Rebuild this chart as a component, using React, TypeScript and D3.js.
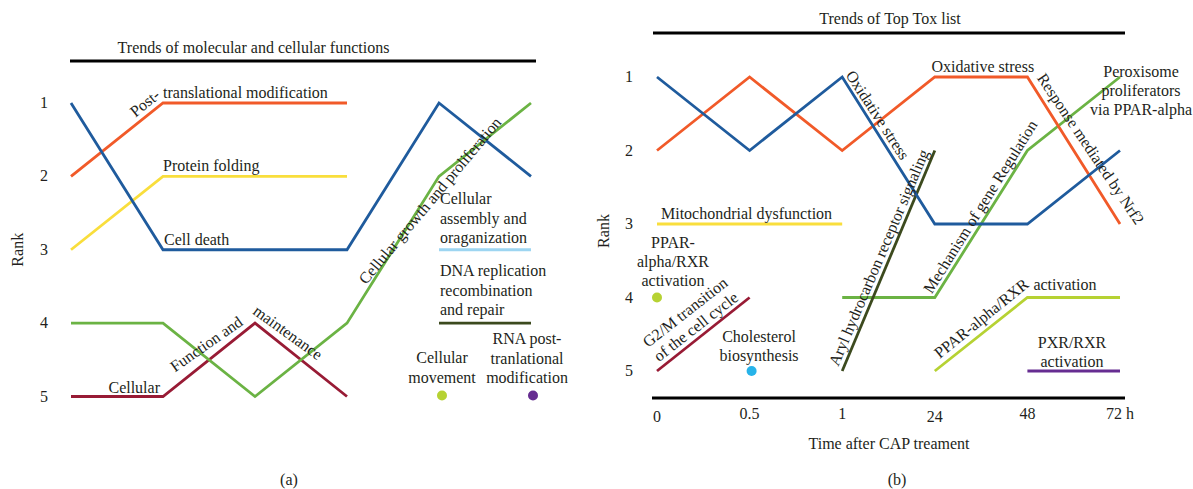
import React from 'react';
import * as d3 from 'd3';

// ---------- panel (a): molecular and cellular functions (rank per step) ----------
const stepsA = [0, 1, 2, 3, 4, 5];
const cellDeath = [1, 3, 3, 3, 1, 2];
const postTranslational = [2, 1, 1, 1, null, null];
const proteinFolding = [3, 2, 2, 2, null, null];
const cellGrowth = [4, 4, 5, 4, 2, 1];
const cellFunction = [5, 5, 4, 5, null, null];
const cellAssembly = [null, null, null, null, 3, 3];
const dnaReplication = [null, null, null, null, 4, 4];
const cellMovement = [null, null, null, null, 5, null];
const rnaPostTrans = [null, null, null, null, null, 5];

// ---------- panel (b): top tox list ----------
const timeLabels = ['0', '0.5', '1', '24', '48', '72 h'];
const oxidativeBlue = [1, 2, 1, 3, 3, 2];
const nrf2Orange = [2, 1, 2, 1, 1, 3];
const geneRegulation = [null, null, 4, 4, 2, 1];
const arylHydrocarbon = [null, null, 5, 2, null, null];
const mitochondrial = [3, 3, 3, null, null, null];
const g2mTransition = [5, 4, null, null, null, null];
const pparLine = [null, null, null, 5, 4, 4];
const pxrRxr = [null, null, null, null, 5, 5];
const pparDot = [4, null, null, null, null, null];
const cholesterol = [null, 5, null, null, null, null];

const rankTicks = [1, 2, 3, 4, 5];

type Vals = (number | null)[];

const C = {
  blue: '#1f5b9d',
  orange: '#f15a29',
  yellow: '#f9de3c',
  green: '#6bb344',
  darkRed: '#981b35',
  lightBlue: '#9dd5f1',
  darkGreen: '#3c4a1e',
  lime: '#b6d233',
  purple: '#662d91',
  cyan: '#27b3e9',
};

const seriesA: { vals: Vals; color: string }[] = [
  { vals: postTranslational, color: C.orange },
  { vals: proteinFolding, color: C.yellow },
  { vals: cellDeath, color: C.blue },
  { vals: cellFunction, color: C.darkRed },
  { vals: cellGrowth, color: C.green },
  { vals: cellAssembly, color: C.lightBlue },
  { vals: dnaReplication, color: C.darkGreen },
];
const dotsA = [
  { vals: cellMovement, color: C.lime },
  { vals: rnaPostTrans, color: C.purple },
];

const seriesB: { vals: Vals; color: string }[] = [
  { vals: mitochondrial, color: C.yellow },
  { vals: g2mTransition, color: C.darkRed },
  { vals: pparLine, color: C.lime },
  { vals: pxrRxr, color: C.purple },
  { vals: geneRegulation, color: C.green },
  { vals: arylHydrocarbon, color: C.darkGreen },
  { vals: nrf2Orange, color: C.orange },
  { vals: oxidativeBlue, color: C.blue },
];
const dotsB = [
  { vals: pparDot, color: C.lime },
  { vals: cholesterol, color: C.cyan },
];

const W = 1193;
const H = 489;
const FONT = '"Liberation Serif", "Times New Roman", serif';
const FS = 16;

const xA = d3.scaleLinear().domain([0, 5]).range([71, 531]);
const yA = d3.scaleLinear().domain([1, 5]).range([103, 396.5]);
const xB = d3.scalePoint<string>().domain(timeLabels).range([657, 1120]);
const yB = d3.scaleLinear().domain([1, 5]).range([77, 371]);
const xBi = (i: number) => xB(timeLabels[i]) as number;

function linePath(vals: Vals, x: (i: number) => number, y: (v: number) => number) {
  return d3
    .line<number | null>()
    .defined((v) => v != null)
    .x((_, i) => x(i))
    .y((v) => y(v as number))(vals) as string;
}

// multi-line label; first line sits at y, the rest go down by gap
function Lines({ text, x, y, anchor = 'start', gap = 19.5, rotate = 0 }:
  { text: string[]; x: number; y: number; anchor?: string; gap?: number; rotate?: number }) {
  return (
    <text transform={`translate(${x},${y}) rotate(${rotate})`} textAnchor={anchor}>
      {text.map((t, i) => (
        <tspan key={i} x={0} y={i * gap}>{t}</tspan>
      ))}
    </text>
  );
}

export default function App() {
  const iA = (i: number) => xA(stepsA[i]);
  return (
    <div style={{ position: 'absolute', left: 0, top: 0 }}>
      <svg width={W} height={H} style={{ display: 'block', background: '#fff' }}
        fontFamily={FONT} fontSize={FS} fill="#231f20">
        {/* ---------- panel (a) ---------- */}
        <text x={253.5} y={53} textAnchor="middle">Trends of molecular and cellular functions</text>
        <line x1={70} x2={536} y1={61} y2={61} stroke="#000" strokeWidth={3} />
        {rankTicks.map((r) => (
          <text key={r} x={44} y={yA(r) + 5} textAnchor="middle">{r}</text>
        ))}
        <text transform={`translate(23,${yA(3)}) rotate(-90)`} textAnchor="middle">Rank</text>

        {seriesA.map((s, k) => (
          <path key={k} d={linePath(s.vals, iA, yA)} fill="none" stroke={s.color} strokeWidth={2.8} />
        ))}
        {dotsA.map((s, k) =>
          s.vals.map((v, i) => v == null ? null : (
            <circle key={`${k}-${i}`} cx={iA(i) + (k === 0 ? 3 : 2)} cy={yA(v) - 1} r={5} fill={s.color} />
          )))}

        <text transform={`translate(${iA(1) - 2},${yA(1) - 6}) rotate(-39)`} textAnchor="end">Post-</text>
        <text x={iA(1)} y={yA(1) - 5}>translational modification</text>
        <text x={iA(1)} y={yA(2) - 5}>Protein folding</text>
        <text x={iA(1) + 1} y={yA(3) - 5}>Cell death</text>
        <text x={iA(1) - 3} y={yA(5) - 4} textAnchor="end">Cellular</text>
        <text transform={`translate(${iA(1) + 12},${yA(5) - 24}) rotate(-35)`}>Function and</text>
        <text transform={`translate(${iA(2) - 3},${yA(4) - 10}) rotate(36)`}>maintenance</text>
        <text transform={`translate(${iA(3) + 19},${yA(4) - 38}) rotate(-50)`}>Cellular growth and proliferation</text>

        <Lines text={['Cellular', 'assembly and', 'oraganization']} x={iA(4) + 1} y={204} />
        <Lines text={['DNA replication', 'recombination', 'and repair']} x={iA(4) + 1} y={276} />
        <Lines text={['Cellular', 'movement']} x={iA(4) + 3} y={363} anchor="middle" />
        <Lines text={['RNA post-', 'tranlational', 'modification']} x={iA(5) - 4} y={344} anchor="middle" />

        <text x={289} y={485} textAnchor="middle">(a)</text>

        {/* ---------- panel (b) ---------- */}
        <text x={890} y={24} textAnchor="middle">Trends of Top Tox list</text>
        <line x1={653} x2={1125} y1={33} y2={33} stroke="#000" strokeWidth={3} />
        <line x1={652} x2={1125} y1={398} y2={398} stroke="#000" strokeWidth={3} />
        {rankTicks.map((r) => (
          <text key={r} x={629} y={yB(r) + 5} textAnchor="middle">{r}</text>
        ))}
        <text transform={`translate(609,${yB(3) + 7}) rotate(-90)`} textAnchor="middle">Rank</text>
        {timeLabels.map((t, i) => (
          <text key={t} x={xB(t)} y={i % 3 === 0 ? 422 : 419} textAnchor="middle">{t}</text>
        ))}
        <text x={889} y={449} textAnchor="middle">Time after CAP treament</text>

        {seriesB.map((s, k) => (
          <path key={k} d={linePath(s.vals, xBi, yB)} fill="none" stroke={s.color} strokeWidth={2.8} />
        ))}
        {dotsB.map((s, k) =>
          s.vals.map((v, i) => v == null ? null : (
            <circle key={`${k}-${i}`} cx={xBi(i) + (k === 1 ? 2 : 0)} cy={yB(v)} r={5} fill={s.color} />
          )))}

        <text transform={`translate(${xBi(2) + 3},${yB(1) - 2}) rotate(57)`}>Oxidative stress</text>
        <text x={xBi(3) + 48} y={yB(1) - 5} textAnchor="middle">Oxidative stress</text>
        <text transform={`translate(${xBi(4) + 9},${yB(1) + 1}) rotate(56)`}>Response mediated by Nrf2</text>
        <Lines text={['Peroxisome', 'proliferators', 'via PPAR-alpha']} x={1141} y={yB(1)} gap={19} anchor="middle" />
        <text transform={`translate(${xBi(3) - 3},${yB(4) - 3}) rotate(-58)`}>Mechanism of gene Regulation</text>
        <text transform={`translate(${xBi(2) - 4},${yB(5) - 4}) rotate(-67)`}>Aryl hydrocarbon receptor signaling</text>
        <text x={xBi(0) + 4} y={yB(3) - 5}>Mitochondrial dysfunction</text>
        <Lines text={['PPAR-', 'alpha/RXR', 'activation']} x={673} y={248} gap={19} anchor="middle" />
        <Lines text={['G2/M transition', 'of the cell cycle']} x={xBi(0) - 9} y={yB(5) - 23} gap={18} rotate={-38} />
        <Lines text={['Cholesterol', 'biosynthesis']} x={759} y={342} gap={19} anchor="middle" />
        <text transform={`translate(${xBi(3) + 5},${yB(5) - 12}) rotate(-39)`}>PPAR-alpha/RXR</text>
        <text x={xBi(4) + 6} y={yB(4) - 8}>activation</text>
        <Lines text={['PXR/RXR', 'activation']} x={1072} y={348} gap={19} anchor="middle" />

        <text x={897} y={485} textAnchor="middle">(b)</text>
      </svg>
    </div>
  );
}
